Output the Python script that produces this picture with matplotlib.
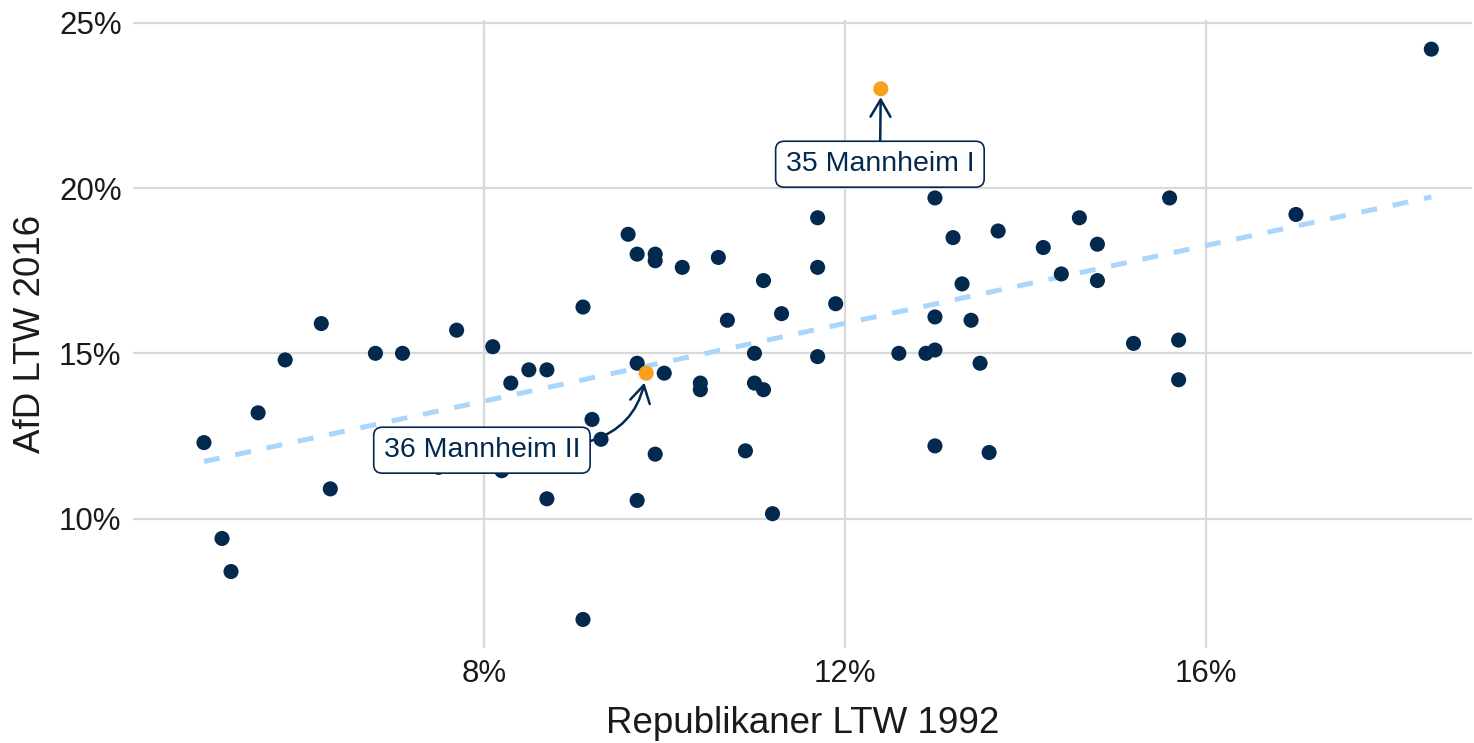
import numpy as np
import matplotlib
matplotlib.use('Agg')
import matplotlib.pyplot as plt
from matplotlib.ticker import FuncFormatter

plt.rcParams['font.family'] = ['Liberation Sans', 'DejaVu Sans']

# Republikaner LTW 1992 (x) und AfD LTW 2016 (y), in Prozent
rep_1992 = [4.9, 5.1, 5.2, 5.5, 5.8, 6.2, 6.3, 6.8, 7.1, 7.7,
            7.5, 8.2, 8.1, 8.3, 8.5, 8.7, 8.7, 9.1, 9.2, 9.1,
            9.3, 9.6, 9.7, 9.9, 9.9, 10.2, 10.6, 11.7, 11.7, 11.1,
            10.7, 11.3, 11.9, 9.7, 10.0, 10.4, 10.4, 11.0, 11.0, 11.1,
            11.7, 9.9, 10.9, 9.7, 11.2, 13.0, 15.6, 17.0, 13.2, 13.7,
            14.6, 14.2, 14.8, 14.4, 14.8, 13.3, 13.0, 13.4, 12.6, 12.9,
            13.0, 13.5, 15.2, 15.7, 15.7, 13.0, 13.6, 18.5]
afd_2016 = [12.3, 9.4, 8.4, 13.2, 14.8, 15.9, 10.9, 15.0, 15.0, 15.7,
            11.55, 11.45, 15.2, 14.1, 14.5, 14.5, 10.6, 16.4, 13.0, 6.95,
            12.4, 18.6, 18.0, 18.0, 17.8, 17.6, 17.9, 19.1, 17.6, 17.2,
            16.0, 16.2, 16.5, 14.7, 14.4, 14.1, 13.9, 15.0, 14.1, 13.9,
            14.9, 11.95, 12.05, 10.55, 10.15, 19.7, 19.7, 19.2, 18.5, 18.7,
            19.1, 18.2, 18.3, 17.4, 17.2, 17.1, 16.1, 16.0, 15.0, 15.0,
            15.1, 14.7, 15.3, 15.4, 14.2, 12.2, 12.0, 24.2]

# hervorgehobene Wahlkreise
hl_names = ['35 Mannheim I', '36 Mannheim II']
hl_x = [12.4, 9.8]
hl_y = [23.0, 14.4]

navy = '#03294f'
orange = '#f9a021'

x = np.array(rep_1992 + hl_x)
y = np.array(afd_2016 + hl_y)
m, b = np.polyfit(x, y, 1)
xs = np.array([x.min(), x.max()])

fig = plt.figure(figsize=(14.74, 7.43), dpi=100)
ax = fig.add_axes([0.090, 0.128, 0.9086, 0.845])

ax.plot(xs, m * xs + b, color='#a9d6fc', lw=3.6, ls=(0, (3.2, 3.2)), zorder=2)
ax.scatter(rep_1992, afd_2016, s=118, color=navy, edgecolor='none', zorder=3)
ax.scatter(hl_x, hl_y, s=118, color=orange, edgecolor='none', zorder=4)

box = dict(boxstyle='round,pad=0.35,rounding_size=0.3', fc='white', ec=navy, lw=1.2)
ax.annotate(hl_names[0], xy=(hl_x[0], hl_y[0]), xytext=(12.39, 20.72),
            ha='center', va='center', fontsize=20.5, color=navy, bbox=box,
            arrowprops=dict(arrowstyle='->,head_length=0.6,head_width=0.35',
                            color=navy, lw=1.8, shrinkA=0, shrinkB=6), zorder=5)
ax.annotate(hl_names[1], xy=(hl_x[1], hl_y[1]), xytext=(7.98, 12.07),
            ha='center', va='center', fontsize=20.5, color=navy, bbox=box,
            arrowprops=dict(arrowstyle='->,head_length=0.6,head_width=0.35',
                            color=navy, lw=1.8, shrinkB=7, shrinkA=0,
                            relpos=(1.0, 0.75),
                            connectionstyle='arc3,rad=0.35'), zorder=5)

ax.set_xlim(4.11, 18.95)
ax.set_ylim(6.09, 25.08)
ax.set_xticks([8, 12, 16])
ax.set_yticks([10, 15, 20, 25])
ax.xaxis.set_major_formatter(FuncFormatter(lambda v, p: '%d%%' % v))
ax.yaxis.set_major_formatter(FuncFormatter(lambda v, p: '%d%%' % v))
ax.tick_params(length=0, labelsize=22.5, labelcolor='#1a1a1a', pad=8)
ax.grid(color='#d9d9d9', lw=1.6)
ax.set_axisbelow(True)
for s in ax.spines.values():
    s.set_visible(False)

ax.set_xlabel('Republikaner LTW 1992', fontsize=26.5, color='#1a1a1a', labelpad=12)
ax.set_ylabel('AfD LTW 2016', fontsize=26.5, color='#1a1a1a', labelpad=8)

fig.savefig('out.png', dpi=100)
